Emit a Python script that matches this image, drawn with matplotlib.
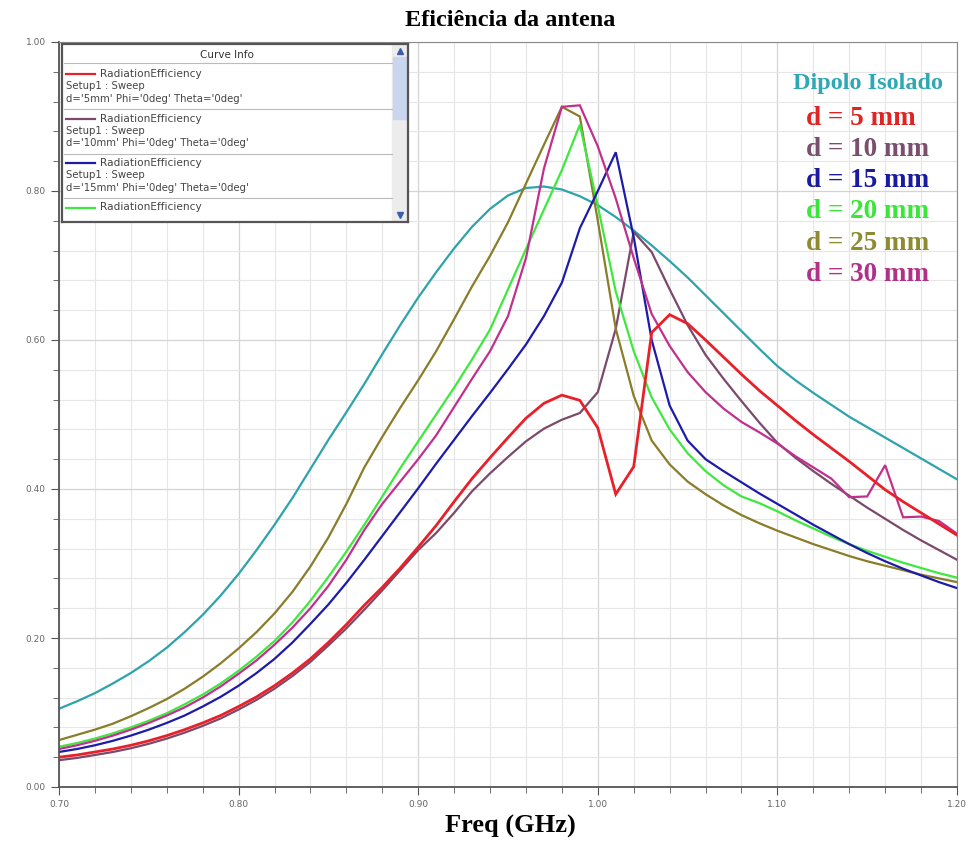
import numpy as np
import matplotlib
matplotlib.use("Agg")
import matplotlib.pyplot as plt
from matplotlib.ticker import MultipleLocator, FormatStrFormatter
from matplotlib.patches import Rectangle

# frequency sweep (GHz), 0.01 step
freq = np.linspace(0.70, 1.20, 51)

dipolo = [0.105, 0.115, 0.126, 0.139, 0.153, 0.169, 0.187, 0.208, 0.231, 0.257,
          0.286, 0.318, 0.352, 0.388, 0.427, 0.466, 0.503, 0.541, 0.581, 0.620,
          0.657, 0.691, 0.723, 0.752, 0.776, 0.794, 0.804, 0.806, 0.802, 0.793,
          0.781, 0.765, 0.747, 0.727, 0.706, 0.684, 0.660, 0.636, 0.612, 0.588,
          0.565, 0.546, 0.529, 0.513, 0.497, 0.483, 0.469, 0.455, 0.441, 0.427, 0.413]

d5 = [0.040, 0.043, 0.047, 0.051, 0.056, 0.062, 0.069, 0.077, 0.086, 0.096,
      0.108, 0.121, 0.136, 0.153, 0.172, 0.194, 0.218, 0.244, 0.268, 0.294,
      0.322, 0.351, 0.383, 0.414, 0.442, 0.469, 0.495, 0.515, 0.526, 0.519,
      0.482, 0.393, 0.430, 0.610, 0.634, 0.622, 0.600, 0.577, 0.554, 0.532,
      0.512, 0.492, 0.473, 0.455, 0.437, 0.418, 0.399, 0.383, 0.368, 0.353, 0.338]

d10 = [0.036, 0.039, 0.043, 0.047, 0.052, 0.058, 0.065, 0.073, 0.082, 0.092,
       0.104, 0.117, 0.132, 0.149, 0.168, 0.190, 0.213, 0.238, 0.264, 0.291,
       0.318, 0.341, 0.368, 0.397, 0.421, 0.443, 0.464, 0.481, 0.493, 0.502,
       0.530, 0.615, 0.745, 0.718, 0.668, 0.620, 0.580, 0.548, 0.518, 0.489,
       0.462, 0.442, 0.424, 0.407, 0.391, 0.375, 0.360, 0.345, 0.331, 0.318, 0.305]

d15 = [0.047, 0.051, 0.056, 0.062, 0.069, 0.077, 0.086, 0.096, 0.108, 0.121,
       0.136, 0.153, 0.172, 0.194, 0.219, 0.245, 0.274, 0.305, 0.337, 0.369,
       0.401, 0.434, 0.466, 0.498, 0.529, 0.561, 0.594, 0.632, 0.677, 0.750,
       0.800, 0.852, 0.738, 0.600, 0.512, 0.465, 0.440, 0.424, 0.409, 0.394,
       0.380, 0.366, 0.352, 0.339, 0.326, 0.314, 0.303, 0.293, 0.284, 0.275, 0.267]

d20 = [0.054, 0.059, 0.065, 0.072, 0.080, 0.089, 0.099, 0.111, 0.124, 0.139,
       0.156, 0.175, 0.196, 0.221, 0.250, 0.282, 0.316, 0.352, 0.390, 0.428,
       0.464, 0.500, 0.536, 0.574, 0.614, 0.668, 0.722, 0.775, 0.828, 0.889,
       0.780, 0.665, 0.585, 0.523, 0.480, 0.448, 0.424, 0.405, 0.390, 0.381,
       0.370, 0.358, 0.347, 0.336, 0.326, 0.317, 0.309, 0.301, 0.294, 0.287, 0.281]

d25 = [0.063, 0.070, 0.077, 0.085, 0.095, 0.106, 0.118, 0.132, 0.148, 0.166,
       0.186, 0.208, 0.233, 0.262, 0.296, 0.335, 0.380, 0.429, 0.470, 0.509,
       0.546, 0.585, 0.628, 0.672, 0.713, 0.758, 0.810, 0.862, 0.913, 0.900,
       0.760, 0.615, 0.525, 0.465, 0.433, 0.410, 0.393, 0.378, 0.365, 0.354,
       0.344, 0.335, 0.326, 0.318, 0.310, 0.303, 0.297, 0.291, 0.285, 0.280, 0.275]

d30 = [0.051, 0.056, 0.062, 0.069, 0.077, 0.086, 0.096, 0.107, 0.120, 0.135,
       0.152, 0.170, 0.191, 0.214, 0.240, 0.270, 0.305, 0.345, 0.380, 0.410,
       0.440, 0.472, 0.510, 0.548, 0.585, 0.632, 0.710, 0.830, 0.913, 0.915,
       0.860, 0.790, 0.710, 0.635, 0.592, 0.557, 0.530, 0.508, 0.490, 0.476,
       0.461, 0.444, 0.429, 0.414, 0.389, 0.390, 0.432, 0.362, 0.363, 0.357, 0.340]

labels = ["Dipolo Isolado", "d = 5 mm", "d = 10 mm", "d = 15 mm",
          "d = 20 mm", "d = 25 mm", "d = 30 mm"]
colors = ["#2ea3ab", "#e8202a", "#7b4a6b", "#1c1ca8", "#3ee83e", "#8a7d2a", "#c0308e"]
label_colors = ["#2fa8b6", "#e02424", "#7a4e6e", "#1a1aa0", "#3ae63a", "#8e8a30", "#b0308a"]

W, H = 973, 843
fig = plt.figure(figsize=(W / 100, H / 100), dpi=100)
fig.patch.set_facecolor("white")
ax = fig.add_axes([59 / W, 1 - 787 / H, (957 - 59) / W, (787 - 42) / H])

series = [dipolo, d10, d25, d20, d15, d30, d5]
ser_col = [colors[0], colors[2], colors[5], colors[4], colors[3], colors[6], colors[1]]
for vals, c in zip(series, ser_col):
    lw = 2.0 if c == colors[1] else 1.6
    ax.plot(freq, vals, color=c, lw=lw, solid_joinstyle="miter")

ax.set_xlim(0.70, 1.20)
ax.set_ylim(0.0, 1.0)
ax.xaxis.set_major_locator(MultipleLocator(0.10))
ax.xaxis.set_minor_locator(MultipleLocator(0.02))
ax.yaxis.set_major_locator(MultipleLocator(0.20))
ax.yaxis.set_minor_locator(MultipleLocator(0.04))
ax.xaxis.set_major_formatter(FormatStrFormatter("%.2f"))
ax.yaxis.set_major_formatter(FormatStrFormatter("%.2f"))
ax.grid(which="major", color="#d4d4d4", lw=0.9)
ax.grid(which="minor", color="#e6e6e6", lw=0.8)
ax.set_axisbelow(True)
ax.tick_params(which="both", direction="out", colors="#555555", labelcolor="#666666",
               labelsize=6.5)
ax.tick_params(which="major", length=6)
ax.tick_params(which="minor", length=4)
for s in ax.spines.values():
    s.set_color("#8a8a8a")
ax.spines["left"].set_color("#555555")
ax.spines["bottom"].set_color("#555555")
ax.spines["left"].set_linewidth(1.3)
ax.spines["bottom"].set_linewidth(1.3)

serif = ["Liberation Serif", "DejaVu Serif"]
fig.text(510 / W, 1 - 20 / H, "Eficiência da antena", ha="center", va="center",
         fontsize=17.5, fontweight="bold", family=serif)
fig.text(510 / W, 1 - 826 / H, "Freq (GHz)", ha="center", va="center",
         fontsize=19, fontweight="bold", family=serif)

# text legend on the right
fig.text(868 / W, 1 - 83 / H, labels[0], ha="center", va="center", fontsize=17.5,
         fontweight="bold", family=serif, color=label_colors[0])
for i in range(1, 7):
    fig.text(806 / W, 1 - (87 + 31.2 * i) / H, labels[i], ha="left", va="center",
             fontsize=19.5, fontweight="bold", family=serif, color=label_colors[i])

# "Curve Info" box
bx = fig.add_axes([62 / W, 1 - 222 / H, 346 / W, 178 / H])
bx.set_xlim(0, 346)
bx.set_ylim(178, 0)
bx.set_xticks([])
bx.set_yticks([])
for s in bx.spines.values():
    s.set_color("#555555")
    s.set_linewidth(1.6)
bx.add_patch(Rectangle((330, 0), 16, 178, color="#ececec"))
bx.add_patch(Rectangle((331, 13), 14, 62, color="#c9d6ee"))
bx.plot([338], [7], marker="^", ms=4, color="#3a5fa8")
bx.plot([338], [171], marker="v", ms=4, color="#3a5fa8")
bx.text(165, 11, "Curve Info", ha="center", va="center", fontsize=7.5, color="#333333")
bx.plot([2, 330], [19, 19], color="#bbbbbb", lw=0.8)

info_cols = [colors[1], colors[2], colors[3], colors[4]]
info_d = ["5mm", "10mm", "15mm"]
for k, c in enumerate(info_cols):
    y0 = 30 + 44.5 * k
    bx.plot([4, 33], [y0, y0], color=c, lw=1.6)
    bx.text(38, y0, "RadiationEfficiency", va="center", fontsize=7.6, color="#444444")
    if k < 3:
        bx.text(4, y0 + 12, "Setup1 : Sweep", va="center", fontsize=7.3, color="#444444")
        bx.text(4, y0 + 25, "d='%s' Phi='0deg' Theta='0deg'" % info_d[k], va="center",
                fontsize=7.3, color="#444444")
        bx.plot([2, 330], [y0 + 35, y0 + 35], color="#bbbbbb", lw=0.8)

fig.savefig("out.png", dpi=100, facecolor="white")
